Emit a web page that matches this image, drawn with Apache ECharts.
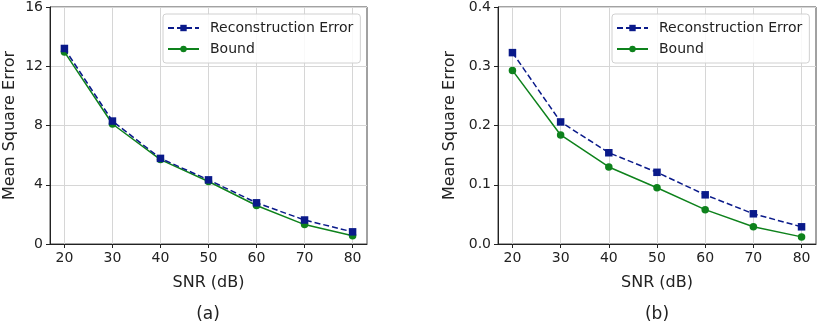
<!DOCTYPE html>
<html>
<head>
<meta charset="utf-8">
<script src="https://cdn.jsdelivr.net/npm/echarts@6/dist/echarts.min.js"></script>
<style>
  html, body { margin: 0; padding: 0; background: #fff; }
  #chart { width: 830px; height: 324px; }
</style>
</head>
<body>
<div id="chart"></div>
<script>
const snr = [20, 30, 40, 50, 60, 70, 80]
const snrTicks = [20, 30, 40, 50, 60, 70, 80]

// panel (a)
const reconA = [13.2, 8.3, 5.78, 4.33, 2.78, 1.62, 0.82]
const boundA = [12.97, 8.1, 5.7, 4.22, 2.6, 1.31, 0.56]

// panel (b)
const reconB = [0.323, 0.206, 0.154, 0.121, 0.083, 0.051, 0.029]
const boundB = [0.293, 0.184, 0.130, 0.095, 0.058, 0.029, 0.012]

const panelLabels = ['(a)', '(b)']
const seriesNames = ['Reconstruction Error', 'Bound']

const FONT = 'DejaVu Sans'
const NAVY = '#0a1a8a'
const GREEN = '#0e821c'
const pair = (xs, ys) => xs.map((x, i) => [x, ys[i]])

const chart = echarts.init(document.getElementById('chart'), null, { renderer: 'canvas' })

function xAxis(gridIndex) {
  return {
    type: 'value', gridIndex, min: 17, max: 83,
    name: 'SNR (dB)', nameLocation: 'middle', nameGap: 31,
    nameTextStyle: { fontFamily: FONT, fontSize: 16, color: '#222' },
    axisLine: { show: true, onZero: false, lineStyle: { color: '#222', width: 1 } },
    axisTick: { show: true, length: 4, lineStyle: { color: '#222' }, customValues: snrTicks },
    axisLabel: { fontFamily: FONT, fontSize: 14, color: '#222', margin: 7, customValues: snrTicks },
    splitLine: { show: true, lineStyle: { color: '#d6d6d6', width: 1 } }
  }
}

function yAxis(gridIndex, max, interval, digits, gap) {
  return {
    type: 'value', gridIndex, min: 0, max, interval,
    name: 'Mean Square Error', nameLocation: 'middle', nameGap: gap,
    nameTextStyle: { fontFamily: FONT, fontSize: 16, color: '#222' },
    axisLine: { show: true, lineStyle: { color: '#222', width: 1 } },
    axisTick: { show: true, length: 4, lineStyle: { color: '#222' } },
    axisLabel: { fontFamily: FONT, fontSize: 14, color: '#222', margin: 7,
      formatter: (v) => v.toFixed(digits) },
    splitLine: { show: true, lineStyle: { color: '#d6d6d6', width: 1 } }
  }
}

function lines(idx, recon, bound) {
  return [
    {
      name: seriesNames[0], type: 'line', xAxisIndex: idx, yAxisIndex: idx,
      data: pair(snr, recon), symbol: 'rect', symbolSize: 7.5,
      itemStyle: { color: NAVY },
      lineStyle: { color: NAVY, width: 1.5, type: [6, 3] },
      animation: false, z: 3
    },
    {
      name: seriesNames[1], type: 'line', xAxisIndex: idx, yAxisIndex: idx,
      data: pair(snr, bound), symbol: 'circle', symbolSize: 7.5,
      itemStyle: { color: GREEN },
      lineStyle: { color: GREEN, width: 1.5 },
      animation: false, z: 2
    }
  ]
}

function legend(left) {
  return {
    left, top: 14, orient: 'vertical',
    data: seriesNames,
    itemWidth: 31, itemHeight: 8, itemGap: 7,
    padding: [7, 7, 7, 4],
    borderColor: '#d0d0d0', borderWidth: 1, borderRadius: 3,
    backgroundColor: 'rgba(255,255,255,0.85)',
    textStyle: { fontFamily: FONT, fontSize: 14, color: '#222', padding: [0, 0, 0, 6] },
    selectedMode: false
  }
}

chart.setOption({
  animation: false,
  grid: [
    { left: 50, top: 7, width: 317, height: 237, show: true, borderColor: '#444', borderWidth: 1 },
    { left: 498, top: 7, width: 318, height: 237, show: true, borderColor: '#444', borderWidth: 1 }
  ],
  xAxis: [xAxis(0), xAxis(1)],
  yAxis: [yAxis(0, 16, 4, 0, 32), yAxis(1, 0.4, 0.1, 1, 40)],
  legend: [legend(163), legend(612)],
  series: [...lines(0, reconA, boundA), ...lines(1, reconB, boundB)],
  graphic: [
    { type: 'text', x: 208, y: 315, style: { text: panelLabels[0], font: '17px "DejaVu Sans"', fill: '#222', align: 'center', verticalAlign: 'middle' } },
    { type: 'text', x: 657, y: 315, style: { text: panelLabels[1], font: '17px "DejaVu Sans"', fill: '#222', align: 'center', verticalAlign: 'middle' } }
  ]
})
</script>
</body>
</html>
